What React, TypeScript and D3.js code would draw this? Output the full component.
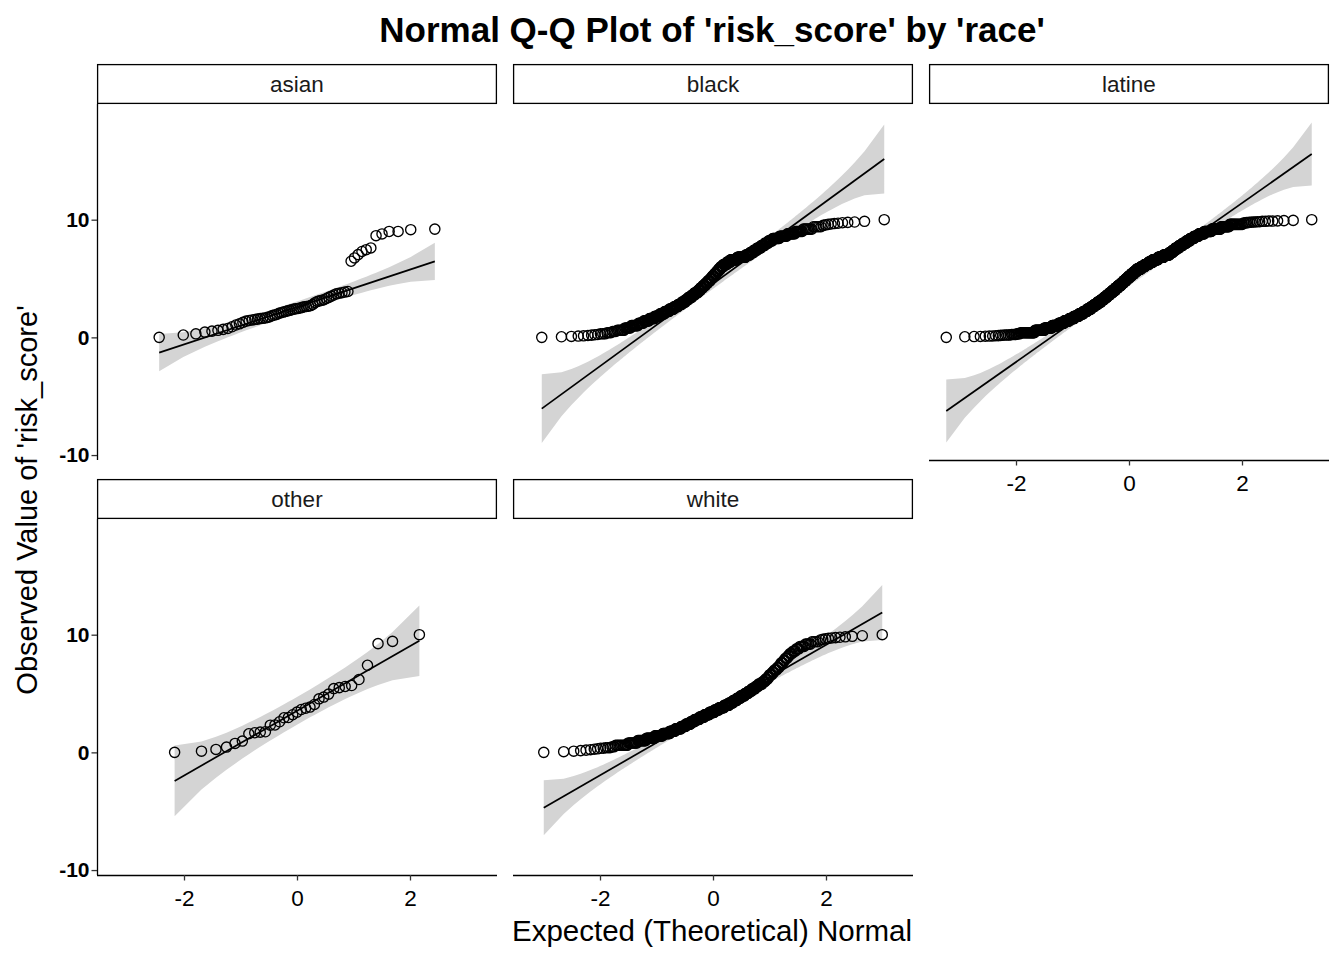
import * as d3 from 'd3';
import { useEffect, useRef } from 'react';

const races = ['asian', 'black', 'latine', 'other', 'white'];

// sorted risk_score values, small groups one by one
const asianScores = [
    0.0, 0.2, 0.3, 0.45, 0.53, 0.6, 0.68, 0.76, 0.9, 1.05, 1.15, 1.28, 1.38, 1.44, 1.48, 1.52, 1.55, 1.6, 1.62, 1.65,
    1.7, 1.75, 1.85, 1.9, 1.95, 2.05, 2.1, 2.15, 2.2, 2.25, 2.3, 2.35, 2.4, 2.43, 2.45, 2.5, 2.55, 2.6, 2.62, 2.65,
    2.7, 2.8, 2.95, 3.05, 3.1, 3.15, 3.2, 3.3, 3.4, 3.5, 3.6, 3.7, 3.75, 3.8, 3.85, 3.9, 6.47, 6.75, 7.03, 7.3,
    7.45, 7.6, 8.64, 8.79, 9.0, 9.0, 9.15, 9.2,
];

const otherScores = [
    0.0, 0.1, 0.25, 0.45, 0.76, 0.96, 1.58, 1.67, 1.72, 1.75, 2.31, 2.33, 2.6, 2.94, 2.96, 3.2, 3.42, 3.64, 3.75, 3.85,
    4.07, 4.55, 4.7, 4.95, 5.42, 5.5, 5.6, 5.68, 6.19, 7.4, 9.24, 9.43, 10.0,
];

// bigger groups as [score, count] runs of the sorted sample
const blackRuns: [number, number][] = [
    [0, 1], [0.05, 1], [0.08, 1], [0.11, 1], [0.13, 1], [0.16, 1], [0.19, 1], [0.22, 1], [0.25, 1],
    [0.3, 3], [0.4, 3], [0.5, 3], [0.6, 6], [0.8, 6], [1.0, 8], [1.2, 7], [1.4, 8], [1.6, 9], [1.8, 9], [2.0, 9],
    [2.2, 10], [2.4, 10], [2.6, 10], [2.8, 9], [3.0, 9], [3.2, 8], [3.4, 9], [3.6, 8], [3.8, 9], [4.0, 7],
    [4.2, 7], [4.4, 7], [4.6, 7], [4.8, 7], [5.0, 6], [5.2, 6], [5.4, 6], [5.6, 6], [5.8, 6], [6.0, 8],
    [6.2, 10], [6.4, 10], [6.6, 18], [6.8, 21], [7.0, 11], [7.2, 8], [7.4, 8], [7.6, 8], [7.8, 7], [8.0, 7],
    [8.2, 7], [8.4, 11], [8.6, 10], [8.8, 9], [9.0, 7], [9.2, 7], [9.4, 5],
    [9.52, 1], [9.56, 1], [9.6, 1], [9.63, 1], [9.67, 1], [9.7, 1], [9.74, 1], [9.77, 1], [9.8, 1], [9.86, 1], [10, 1],
];

const latineRuns: [number, number][] = [
    [0, 1], [0.05, 1], [0.07, 1], [0.08, 1], [0.1, 1], [0.11, 1], [0.12, 1], [0.14, 1], [0.15, 1], [0.17, 1], [0.18, 1],
    [0.2, 4], [0.25, 4], [0.3, 3], [0.4, 17], [0.6, 16], [0.8, 16], [1.0, 16], [1.2, 16], [1.4, 16], [1.6, 17],
    [1.8, 18], [2.0, 17], [2.2, 17], [2.4, 17], [2.6, 16], [2.8, 16], [3.0, 17], [3.2, 16], [3.4, 15], [3.6, 16],
    [3.8, 15], [4.0, 16], [4.2, 15], [4.4, 16], [4.6, 15], [4.8, 15], [5.0, 15], [5.2, 15], [5.4, 16], [5.6, 16],
    [5.8, 23], [6.0, 22], [6.2, 22], [6.4, 22], [6.6, 27], [6.8, 27], [7.0, 27], [7.2, 14], [7.4, 13], [7.6, 14],
    [7.8, 13], [8.0, 14], [8.2, 12], [8.4, 13], [8.6, 13], [8.8, 14], [9.0, 16], [9.2, 16], [9.4, 12], [9.6, 13],
    [9.72, 2], [9.75, 2], [9.78, 2], [9.8, 2], [9.83, 2], [9.86, 2], [9.88, 2], [9.9, 1], [9.92, 1], [9.94, 1], [10, 1],
];

const whiteRuns: [number, number][] = [
    [0, 1], [0.06, 1], [0.1, 1], [0.15, 1], [0.19, 1], [0.23, 1], [0.27, 1], [0.3, 1],
    [0.35, 2], [0.4, 3], [0.47, 2], [0.6, 9], [0.8, 9], [1.0, 10], [1.2, 12], [1.4, 13], [1.6, 13], [1.8, 11],
    [2.0, 12], [2.2, 11], [2.4, 11], [2.6, 10], [2.8, 12], [3.0, 12], [3.2, 13], [3.4, 13], [3.6, 12], [3.8, 13],
    [4.0, 12], [4.2, 10], [4.4, 9], [4.6, 9], [4.8, 9], [5.0, 8], [5.2, 7], [5.4, 7], [5.6, 6], [5.8, 7],
    [6.0, 5], [6.2, 4], [6.4, 3], [6.6, 4], [6.8, 3], [7.0, 4], [7.2, 3], [7.4, 2], [7.6, 3], [7.8, 2],
    [8.0, 3], [8.2, 2], [8.4, 3], [8.6, 3], [8.8, 3], [9.0, 4], [9.2, 4], [9.4, 4],
    [9.55, 1], [9.6, 1], [9.65, 1], [9.69, 1], [9.72, 1], [9.75, 1], [9.78, 1], [9.82, 1], [9.86, 1], [9.91, 1], [10, 1],
];

// reference line (intercept, slope)
const lineIntercept = [2.58, 4.55, 4.66, 3.53, 3.59];
const lineSlope = [1.59, 3.5, 3.376, 2.75, 2.77];

const xTicks = [-2, 0, 2];
const yTicks = [-10, 0, 10];
const xDomain = [-3.54, 3.54];
const yDomain = [-10.42, 19.83];

const expand = (runs: [number, number][]) => runs.flatMap(([v, c]) => Array(c).fill(v) as number[]);

const samples = [asianScores, expand(blackRuns), expand(latineRuns), otherScores, expand(whiteRuns)];

// inverse normal cdf (Acklam)
function qnorm(p: number) {
    const a = [-39.69683028665376, 220.9460984245205, -275.9285104469687, 138.357751867269, -30.66479806614716, 2.506628277459239];
    const b = [-54.47609879822406, 161.5858368580409, -155.6989798598866, 66.80131188771972, -13.28068155288572];
    const c = [-0.007784894002430293, -0.3223964580411365, -2.400758277161838, -2.549732539343734, 4.374664141464968, 2.938163982698783];
    const d = [0.007784695709041462, 0.3224671290700398, 2.445134137142996, 3.754408661907416];
    const tail = (q: number) =>
        (((((c[0] * q + c[1]) * q + c[2]) * q + c[3]) * q + c[4]) * q + c[5]) / ((((d[0] * q + d[1]) * q + d[2]) * q + d[3]) * q + 1);
    if (p < 0.02425) return tail(Math.sqrt(-2 * Math.log(p)));
    if (p > 1 - 0.02425) return -tail(Math.sqrt(-2 * Math.log(1 - p)));
    const q = p - 0.5;
    const r = q * q;
    return ((((((a[0] * r + a[1]) * r + a[2]) * r + a[3]) * r + a[4]) * r + a[5]) * q) /
        (((((b[0] * r + b[1]) * r + b[2]) * r + b[3]) * r + b[4]) * r + 1);
}
const dnorm = (z: number) => Math.exp((-z * z) / 2) / Math.sqrt(2 * Math.PI);

const FONT = "'Liberation Sans', Arial, Helvetica, sans-serif";
const fmt = (d: d3.NumberValue) => String(d); // plain hyphen for negatives

export default function App() {
    const svgRef = useRef<SVGSVGElement>(null);

    useEffect(() => {
        if (!svgRef.current) return;
        const width = 1344;
        const height = 960;
        const panelW = 400;
        const panelH = 356;
        const colLeft = [97, 513, 929];
        const rowTop = [104, 519];
        const stripH = 40;

        const svg = d3.select(svgRef.current).attr('width', width).attr('height', height).style('font-family', FONT);
        svg.selectAll('*').remove();
        svg.append('rect').attr('width', width).attr('height', height).attr('fill', '#fff');

        const x = d3.scaleLinear().domain(xDomain).range([0, panelW]);
        const y = d3.scaleLinear().domain(yDomain).range([panelH, 0]);

        races.forEach((race, i) => {
            const col = i % 3;
            const row = Math.floor(i / 3);
            const g = svg.append('g').attr('transform', `translate(${colLeft[col]},${rowTop[row]})`);

            const smp = [...samples[i]].sort((a, b) => a - b);
            const n = smp.length;
            const off = n <= 10 ? 3 / 8 : 0.5;
            const pts = smp.map((v, k) => {
                const p = (k + 1 - off) / (n + 1 - 2 * off);
                return { z: qnorm(p), p, v };
            });
            const b0 = lineIntercept[i];
            const b1 = lineSlope[i];

            // pointwise 95% band
            const band = pts.map((d) => {
                const fit = b0 + b1 * d.z;
                const se = (b1 / dnorm(d.z)) * Math.sqrt((d.p * (1 - d.p)) / n);
                return { z: d.z, lo: fit - 1.96 * se, hi: fit + 1.96 * se };
            });
            g.append('path')
                .datum(band)
                .attr('fill', '#d4d4d4')
                .attr(
                    'd',
                    d3
                        .area<{ z: number; lo: number; hi: number }>()
                        .x((d) => x(d.z))
                        .y0((d) => y(d.lo))
                        .y1((d) => y(d.hi))
                );

            const zMin = pts[0].z;
            const zMax = pts[n - 1].z;
            g.append('line')
                .attr('x1', x(zMin))
                .attr('x2', x(zMax))
                .attr('y1', y(b0 + b1 * zMin))
                .attr('y2', y(b0 + b1 * zMax))
                .attr('stroke', '#000')
                .attr('stroke-width', 1.7);

            g.selectAll('circle.pt')
                .data(pts)
                .join('circle')
                .attr('class', 'pt')
                .attr('cx', (d) => x(d.z))
                .attr('cy', (d) => y(d.v))
                .attr('r', 5.1)
                .attr('fill', 'none')
                .attr('stroke', '#000')
                .attr('stroke-width', 1.35);

            // strip
            const strip = svg.append('g').attr('transform', `translate(${colLeft[col]},${rowTop[row] - stripH})`);
            strip.append('rect').attr('x', 0.6).attr('y', 0.6).attr('width', panelW - 1.2).attr('height', stripH - 1.2)
                .attr('fill', '#fff').attr('stroke', '#000').attr('stroke-width', 1.3);
            strip.append('text').attr('x', panelW / 2).attr('y', stripH / 2).attr('dy', '0.36em')
                .attr('text-anchor', 'middle').attr('font-size', 22.5).attr('fill', '#1a1a1a').text(race);

            // y axis on the first column
            if (col === 0) {
                const ya = g.append('g').call(
                    d3.axisLeft(y).tickValues(yTicks).tickFormat(fmt).tickSize(5.5).tickSizeOuter(0).tickPadding(2)
                );
                ya.select('.domain').attr('stroke', '#000').attr('stroke-width', 1.3).attr('d', `M0.5,0V${panelH}`);
                ya.selectAll('.tick line').attr('stroke', '#333').attr('stroke-width', 1.3);
                ya.selectAll('text').attr('font-size', 21).attr('font-weight', 'bold').attr('fill', '#000').attr('font-family', FONT);
            }
            // x axis where no panel sits below
            if (row === 1 || col === 2) {
                const xa = g.append('g').attr('transform', `translate(0,${panelH})`).call(
                    d3.axisBottom(x).tickValues(xTicks).tickFormat(fmt).tickSize(5.5).tickSizeOuter(0).tickPadding(10)
                );
                xa.select('.domain').attr('stroke', '#000').attr('stroke-width', 1.3).attr('d', `M0,0.5H${panelW}`);
                xa.selectAll('.tick line').attr('stroke', '#333').attr('stroke-width', 1.3);
                xa.selectAll('text').attr('font-size', 22.5).attr('fill', '#000').attr('font-family', FONT);
            }
        });

        svg.append('text').attr('x', 712).attr('y', 42).attr('text-anchor', 'middle')
            .attr('font-size', 35).attr('font-weight', 'bold').text("Normal Q-Q Plot of 'risk_score' by 'race'");
        svg.append('text').attr('x', 712).attr('y', 941).attr('text-anchor', 'middle')
            .attr('font-size', 29.5).text('Expected (Theoretical) Normal');
        svg.append('text').attr('transform', 'translate(37,500) rotate(-90)').attr('text-anchor', 'middle')
            .attr('font-size', 29).text("Observed Value of 'risk_score'");
    }, []);

    return <svg ref={svgRef} style={{ position: 'absolute', left: 0, top: 0, display: 'block' }} />;
}
